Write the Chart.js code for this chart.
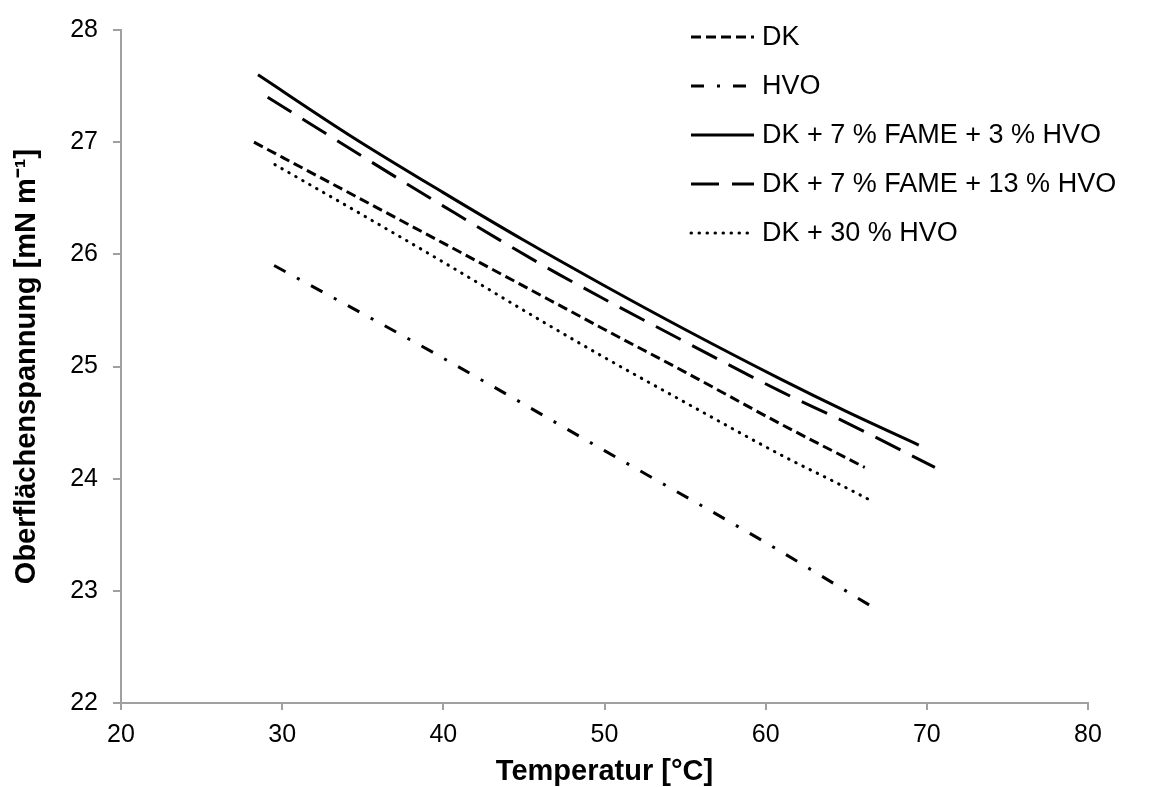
<!DOCTYPE html>
<html>
<head>
<meta charset="utf-8">
<script src="https://cdn.jsdelivr.net/npm/chart.js@4.4.0/dist/chart.umd.min.js"></script>
<style>
  html, body { margin: 0; padding: 0; background: #fff; }
</style>
</head>
<body>
<canvas id="chart" width="1168" height="787"></canvas>
<script>
// temperature [°C] / surface tension [mN m-1] per fuel
const dkTemp = [28.25, 34, 40, 46.5, 50, 55, 60.9, 66.15];
const dkSurf = [27.0, 26.56, 26.1, 25.6, 25.33, 24.95, 24.49, 24.1];

const hvoTemp = [29.5, 39.3, 50, 60, 66.7];
const hvoSurf = [25.9, 25.13, 24.25, 23.43, 22.85];

const fame3Temp = [28.5, 34.2, 40, 45, 50, 55, 60.9, 65, 69.5];
const fame3Surf = [27.6, 27.06, 26.55, 26.125, 25.72, 25.33, 24.89, 24.6, 24.3];

const fame13Temp = [29.1, 32.9, 35.8, 40, 46.2, 50, 55, 60.9, 65, 70.5];
const fame13Surf = [27.4, 27.06, 26.8, 26.43, 25.9, 25.6, 25.22, 24.78, 24.5, 24.1];

const hvo30Temp = [29.55, 35, 40, 46.4, 50, 55, 61.1, 64.3, 66.6];
const hvo30Surf = [26.8, 26.35, 25.93, 25.38, 25.08, 24.68, 24.2, 23.97, 23.8];

const seriesLabels = [
    "DK",
    "HVO",
    "DK + 7 % FAME + 3 % HVO",
    "DK + 7 % FAME + 13 % HVO",
    "DK + 30 % HVO"
];

const xTicks = [20, 30, 40, 50, 60, 70, 80];
const yTicks = [22, 23, 24, 25, 26, 27, 28];

const FONT = '"Liberation Sans", Arial, sans-serif';
const AXIS_GREY = "#a0a0a0";

function toPoints(xs, ys) {
    return xs.map((x, i) => ({x: x, y: ys[i]}));
}

function line(label, xs, ys, dash, cap) {
    return {
        label: label,
        data: toPoints(xs, ys),
        borderColor: "#000",
        borderWidth: 3,
        borderDash: dash,
        borderCapStyle: cap || "butt",
        pointRadius: 0,
        fill: false,
        cubicInterpolationMode: "monotone"
    };
}

// legend drawn inside the plot, top right
const legendX = 691;
const legendY = 37;
const legendGap = 49;

const lineLegend = {
    id: "lineLegend",
    afterDatasetsDraw(chart) {
        const ctx = chart.ctx;
        ctx.save();
        chart.data.datasets.forEach((ds, i) => {
            const y = legendY + i * legendGap;
            ctx.beginPath();
            ctx.setLineDash(ds.borderDash || []);
            ctx.lineCap = ds.borderCapStyle;
            ctx.lineWidth = ds.borderWidth;
            ctx.strokeStyle = ds.borderColor;
            ctx.moveTo(legendX, y);
            ctx.lineTo(legendX + 63, y);
            ctx.stroke();
            ctx.setLineDash([]);
            ctx.fillStyle = "#000";
            ctx.font = "27px " + FONT;
            ctx.textBaseline = "middle";
            ctx.fillText(ds.label, legendX + 71, y + 1);
        });
        ctx.restore();
    }
};

new Chart(document.getElementById("chart"), {
    type: "line",
    data: {
        datasets: [
            line(seriesLabels[0], dkTemp, dkSurf, [10, 5]),
            line(seriesLabels[1], hvoTemp, hvoSurf, [13, 13, 3, 13]),
            line(seriesLabels[2], fame3Temp, fame3Surf, []),
            line(seriesLabels[3], fame13Temp, fame13Surf, [28, 13]),
            line(seriesLabels[4], hvo30Temp, hvo30Surf, [0.5, 7.5], "round")
        ]
    },
    options: {
        responsive: false,
        animation: false,
        devicePixelRatio: 1,
        layout: {padding: {top: 24, right: 80, left: 0, bottom: 0}},
        plugins: {
            legend: {display: false},
            tooltip: {enabled: false}
        },
        scales: {
            x: {
                type: "linear",
                min: xTicks[0],
                max: xTicks[xTicks.length - 1],
                afterBuildTicks(s) { s.ticks = xTicks.map(v => ({value: v})); },
                afterFit(s) { s.height = 84; },
                ticks: {color: "#000", padding: 10, font: {family: FONT, size: 25}},
                grid: {drawOnChartArea: false, tickLength: 7, color: AXIS_GREY, lineWidth: 2},
                border: {color: AXIS_GREY, width: 2},
                title: {
                    display: true,
                    text: "Temperatur [°C]",
                    color: "#000",
                    font: {family: FONT, size: 29, weight: "bold"},
                    padding: {top: 0, bottom: -2}
                }
            },
            y: {
                min: yTicks[0],
                max: yTicks[yTicks.length - 1],
                afterBuildTicks(s) { s.ticks = yTicks.map(v => ({value: v})); },
                afterFit(s) { s.width = 121; },
                ticks: {color: "#000", padding: 15, font: {family: FONT, size: 25}},
                grid: {drawOnChartArea: false, tickLength: 8, color: AXIS_GREY, lineWidth: 2},
                border: {color: AXIS_GREY, width: 2},
                title: {
                    display: true,
                    text: "Oberflächenspannung [mN m⁻¹]",
                    color: "#000",
                    font: {family: FONT, size: 29, weight: "bold"},
                    padding: {top: 10, bottom: 0}
                }
            }
        }
    },
    plugins: [lineLegend]
});
</script>
</body>
</html>
